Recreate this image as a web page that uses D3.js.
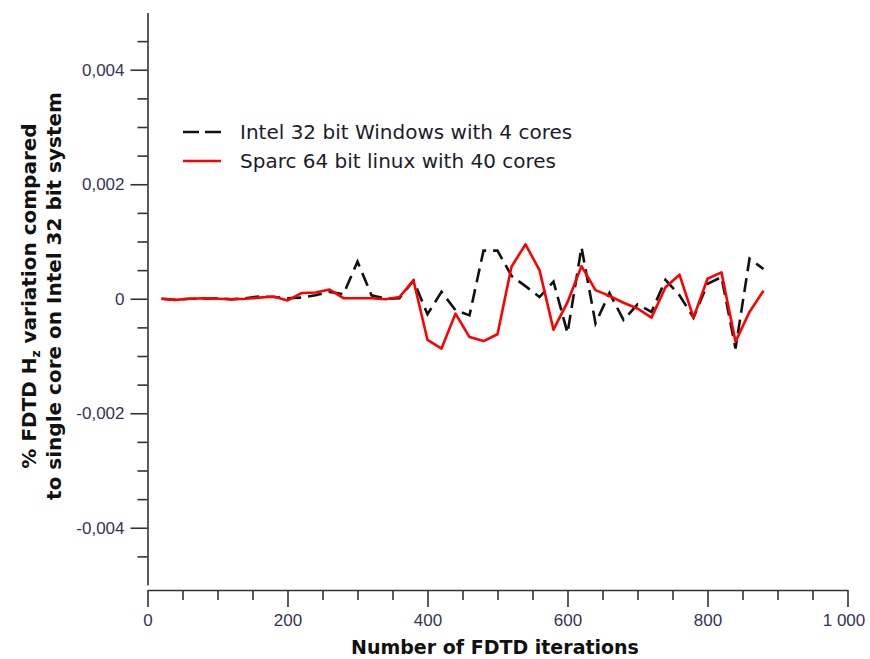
<!DOCTYPE html>
<html>
<head>
<meta charset="utf-8">
<script src="https://cdn.jsdelivr.net/npm/d3@7"></script>
<style>
  body { margin: 0; background: #fff; }
  svg { display: block; font-family: "DejaVu Sans", Verdana, sans-serif; }
</style>
</head>
<body>
<svg class="chart" width="870" height="659"></svg>
<script>
// iterations (x) and % variation for both runs
const iterations = [20, 40, 60, 80, 100, 120, 140, 160, 180, 200, 220, 240, 260, 280, 300,
  320, 340, 360, 380, 400, 420, 440, 460, 480, 500, 520, 540, 560, 580, 600, 620, 640,
  660, 680, 700, 720, 740, 760, 780, 800, 820, 840, 860, 880];

const intelWin4 = [0, -0.00002, 0, 0, 0.00001, -0.00001, 0.00001, 0.00004, 0.00003, 0.00001,
  0.00002, 0.00006, 0.00012, 0.00008, 0.00065, 0.00006, 0, 0.00001, 0.00032, -0.00027,
  0.00012, -0.0002, -0.00029, 0.00084, 0.00084, 0.0004, 0.00022, 0.00003, 0.0003, -0.0006,
  0.0009, -0.00043, 0.0001, -0.00037, -0.0001, -0.00023, 0.00033, 0.00006, -0.00033, 0.00026,
  0.00038, -0.00087, 0.0007, 0.00052];

const sparcLinux40 = [0, -0.00002, 0, 0.00001, 0, -0.00001, 0, 0.00002, 0.00004, -0.00003,
  0.0001, 0.00011, 0.00016, 0.00001, 0.00001, 0.00001, -0.00001, 0.00003, 0.00032, -0.00072,
  -0.00087, -0.00026, -0.00067, -0.00074, -0.00062, 0.00056, 0.00095, 0.0005, -0.00054, -0.00006,
  0.00057, 0.00015, 0.00005, -0.00007, -0.00017, -0.00033, 0.0002, 0.00042, -0.00033, 0.00035,
  0.00046, -0.00075, -0.00023, 0.00014];

const seriesNames = ["Intel 32 bit Windows with 4 cores", "Sparc 64 bit linux with 40 cores"];
const yMajor = [-0.004, -0.002, 0, 0.002, 0.004];
const xMajor = [0, 200, 400, 600, 800, 1000];

const svg = d3.select('svg.chart');

const x = d3.scaleLinear().domain([0, 1000]).range([147.5, 847.5]);
const y = d3.scaleLinear().domain([-0.005, 0.005]).range([585, 12.5]);

const loc = d3.formatLocale({decimal: ",", thousands: " ", grouping: [3], currency: ["", ""], minus: "-"});
const fmtY = v => v === 0 ? "0" : loc.format(".3f")(v);
const fmtX = loc.format(",");

const labelCol = '#34345a';
const axisCol = '#333';

// y axis: minor then major ticks
const yMinor = d3.range(-0.0045, 0.0046, 0.0005).filter(v => Math.abs(Math.round(v * 1e4) % 20) !== 0);
svg.append('g')
    .attr('transform', 'translate(147.5,0)')
    .call(d3.axisLeft(y).tickValues(yMinor).tickSize(10).tickFormat(''))
    .call(g => g.select('.domain').remove());

svg.append('g')
    .attr('transform', 'translate(147.5,0)')
    .call(d3.axisLeft(y).tickValues(yMajor).tickSize(17).tickSizeOuter(0).tickFormat(fmtY).tickPadding(6));

// x axis
const xAxisY = 590;
svg.append('g')
    .attr('transform', `translate(0,${xAxisY})`)
    .call(d3.axisBottom(x).tickValues(d3.range(50, 1000, 50).filter(v => v % 200 !== 0)).tickSize(10).tickFormat(''))
    .call(g => g.select('.domain').remove());

const xAxis = svg.append('g')
    .attr('transform', `translate(0,${xAxisY})`)
    .call(d3.axisBottom(x).tickValues(xMajor).tickSize(17).tickSizeOuter(0).tickFormat(fmtX).tickPadding(7));

svg.selectAll('.domain, .tick line')
    .attr('stroke', axisCol)
    .attr('stroke-width', 1.6);

svg.selectAll('.tick text')
    .attr('fill', labelCol)
    .style('font-size', '17px');

// last label sits against the right edge
xAxis.selectAll('.tick text').filter(d => d === 1000).attr('dx', -4);

// lines
const line = d3.line()
    .x(d => x(d[0]))
    .y(d => y(d[1]));

svg.append('path')
    .datum(iterations.map((it, i) => [it, intelWin4[i]]))
    .attr('d', line)
    .attr('fill', 'none')
    .attr('stroke', '#111')
    .attr('stroke-width', 2.6)
    .attr('stroke-dasharray', '14,7');

svg.append('path')
    .datum(iterations.map((it, i) => [it, sparcLinux40[i]]))
    .attr('d', line)
    .attr('fill', 'none')
    .attr('stroke', '#f00')
    .attr('stroke-width', 2.6)
    .attr('stroke-linejoin', 'round');

// legend
const legend = svg.append('g').attr('class', 'legend');
const legStyles = [{stroke: '#111', dash: '16,6'}, {stroke: '#f00', dash: null}];
seriesNames.forEach((name, i) => {
  const ly = 132 + i * 29;
  legend.append('line')
      .attr('x1', 183).attr('x2', 221)
      .attr('y1', ly).attr('y2', ly)
      .attr('stroke', legStyles[i].stroke)
      .attr('stroke-width', 2.6)
      .attr('stroke-dasharray', legStyles[i].dash);
  legend.append('text')
      .attr('x', 240).attr('y', ly + 7)
      .attr('fill', '#1c1c2c')
      .style('font-size', '20px')
      .text(name);
});

// axis titles
svg.append('text')
    .attr('x', 495).attr('y', 654)
    .attr('text-anchor', 'middle')
    .style('font-size', '19px')
    .style('font-weight', 'bold')
    .attr('fill', '#111')
    .text('Number of FDTD iterations');

const yTitle = svg.append('text')
    .attr('transform', 'translate(0,296) rotate(-90)')
    .attr('text-anchor', 'middle')
    .style('font-size', '20px')
    .style('font-weight', 'bold')
    .attr('fill', '#111');

const t1 = yTitle.append('tspan').attr('x', 0).attr('y', 36);
t1.append('tspan').text('% FDTD H');
t1.append('tspan').attr('dy', 4).style('font-size', '12px').text('z');
t1.append('tspan').attr('dy', -4).text(' variation compared');

yTitle.append('tspan').attr('x', 0).attr('y', 61)
    .text('to single core on Intel 32 bit system');
</script>
</body>
</html>
